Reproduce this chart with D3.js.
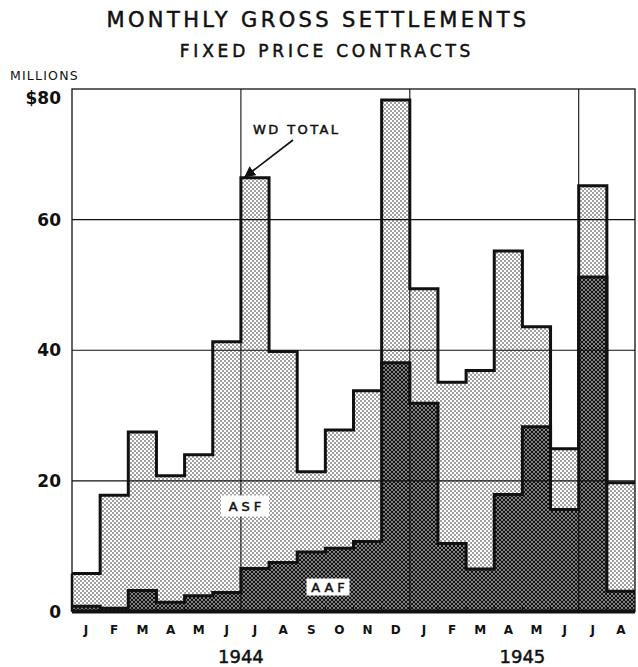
<!DOCTYPE html>
<html>
<head>
<meta charset="utf-8">
<script src="https://cdn.jsdelivr.net/npm/d3@7"></script>
<style>
  html, body { margin: 0; padding: 0; background: #fff; }
  svg { display: block; }
  text { font-family: "DejaVu Sans", "Liberation Sans", sans-serif; fill: #111; }
  .heavy { stroke: #111; stroke-width: 0.5px; }
</style>
</head>
<body>
<svg id="chart" width="638" height="667"></svg>
<script>
// Monthly gross settlements, fixed price contracts (millions of dollars)
const months = ["J","F","M","A","M","J","J","A","S","O","N","D",
                "J","F","M","A","M","J","J","A"];
const years = ["1944", "1945"];
const yearStartIndex = [0, 12];
const yearEndIndex = [12, 20];

// War Department total per month
const wdTotal = [5.8, 17.8, 27.5, 20.8, 24.0, 41.3, 66.4, 39.8, 21.4, 27.8, 33.8, 78.3,
                 49.4, 35.1, 36.9, 55.2, 43.6, 24.9, 65.2, 19.7];
// Army Air Forces share (lower band); ASF is the remainder up to the total
const aaf = [0.8, 0.5, 3.2, 1.4, 2.4, 2.9, 6.6, 7.5, 9.1, 9.7, 10.7, 38.1,
             31.9, 10.4, 6.5, 17.9, 28.3, 15.6, 51.2, 3.1];

const yTicks = [0, 20, 40, 60, 80];
const yTickLabels = ["0", "20", "40", "60", "$80"];
const gridMonths = [6, 12, 18];

const svg = d3.select("#chart");
const plotLeft = 72, plotRight = 635, plotTop = 89, plotBottom = 611.5;

const x = d3.scaleLinear().domain([0, months.length]).range([plotLeft, plotRight]);
const y = d3.scaleLinear().domain([0, 80]).range([plotBottom, plotTop]);

// Fill patterns: light stipple for ASF, dense dots for AAF
const defs = svg.append("defs");
const light = defs.append("pattern").attr("id", "asf").attr("patternUnits", "userSpaceOnUse")
  .attr("width", 4).attr("height", 4);
light.append("rect").attr("width", 4).attr("height", 4).attr("fill", "#fff");
[[1, 1], [3, 3]].forEach(([cx, cy]) =>
  light.append("circle").attr("cx", cx).attr("cy", cy).attr("r", 0.75).attr("fill", "#111"));

const dark = defs.append("pattern").attr("id", "aaf").attr("patternUnits", "userSpaceOnUse")
  .attr("width", 4).attr("height", 4);
dark.append("rect").attr("width", 4).attr("height", 4).attr("fill", "#fff");
[[0, 0], [4, 0], [0, 4], [4, 4], [2, 2]].forEach(([cx, cy]) =>
  dark.append("circle").attr("cx", cx).attr("cy", cy).attr("r", 1.45).attr("fill", "#111"));

const marker = defs.append("marker").attr("id", "arrow").attr("viewBox", "0 0 10 10")
  .attr("refX", 9).attr("refY", 5).attr("markerWidth", 7).attr("markerHeight", 7)
  .attr("orient", "auto");
marker.append("path").attr("d", "M0,0 L10,5 L0,10 z").attr("fill", "#111");

// Step series: append the last value so the final month gets its full width
const stepData = months.map((m, i) => ({ i, total: wdTotal[i], aaf: aaf[i] }));
stepData.push({ i: months.length, total: wdTotal[wdTotal.length - 1], aaf: aaf[aaf.length - 1] });

const asfArea = d3.area().curve(d3.curveStepAfter)
  .x(d => x(d.i)).y0(d => y(d.aaf)).y1(d => y(d.total));
const aafArea = d3.area().curve(d3.curveStepAfter)
  .x(d => x(d.i)).y0(y(0)).y1(d => y(d.aaf));

svg.append("path").datum(stepData).attr("d", asfArea).attr("fill", "url(#asf)");
svg.append("path").datum(stepData).attr("d", aafArea).attr("fill", "url(#aaf)");

// Grid lines
svg.append("g").selectAll("line").data(yTicks.filter(v => v > 0 && v < 80)).join("line")
  .attr("x1", plotLeft).attr("x2", plotRight).attr("y1", d => y(d)).attr("y2", d => y(d))
  .attr("stroke", "#111").attr("stroke-width", 1.1);
svg.append("g").selectAll("line").data(gridMonths).join("line")
  .attr("x1", d => x(d)).attr("x2", d => x(d)).attr("y1", plotTop).attr("y2", plotBottom)
  .attr("stroke", "#111").attr("stroke-width", 1.1);

// Frame
svg.append("rect").attr("x", plotLeft).attr("y", plotTop)
  .attr("width", plotRight - plotLeft).attr("height", plotBottom - plotTop)
  .attr("fill", "none").attr("stroke", "#111").attr("stroke-width", 1.3);

// Step outlines
const totalLine = d3.line().curve(d3.curveStepAfter).x(d => x(d.i)).y(d => y(d.total));
const aafLine = d3.line().curve(d3.curveStepAfter).x(d => x(d.i)).y(d => y(d.aaf));
svg.append("path").datum(stepData).attr("d", totalLine)
  .attr("fill", "none").attr("stroke", "#111").attr("stroke-width", 3);
svg.append("path").datum(stepData).attr("d", aafLine)
  .attr("fill", "none").attr("stroke", "#111").attr("stroke-width", 3);
// first month's left edge
svg.append("line").attr("x1", x(0)).attr("x2", x(0)).attr("y1", y(0)).attr("y2", y(wdTotal[0]))
  .attr("stroke", "#111").attr("stroke-width", 2.5);

// Baseline
svg.append("line").attr("x1", plotLeft).attr("x2", plotRight).attr("y1", y(0)).attr("y2", y(0))
  .attr("stroke", "#111").attr("stroke-width", 4);

// Small month ticks on the baseline
svg.append("g").selectAll("line").data(d3.range(1, months.length)).join("line")
  .attr("x1", d => x(d)).attr("x2", d => x(d)).attr("y1", y(0)).attr("y2", y(0) - 5)
  .attr("stroke", "#111").attr("stroke-width", 1);

// Y axis labels (the top label sits just inside the frame's top edge)
svg.append("g").selectAll("text").data(yTicks).join("text")
  .attr("x", 61).attr("y", d => Math.max(y(d), plotTop + 9)).attr("dy", "0.36em")
  .attr("text-anchor", "end").attr("font-size", 17).attr("font-weight", "bold")
  .text((d, i) => yTickLabels[i]);

svg.append("text").attr("x", 10).attr("y", 80).attr("font-size", 12.5)
  .attr("letter-spacing", 1.2).text("MILLIONS");

// Month labels
svg.append("g").selectAll("text").data(months).join("text")
  .attr("x", (d, i) => x(i + 0.5)).attr("y", 634).attr("text-anchor", "middle")
  .attr("font-size", 12).attr("font-weight", "bold").text(d => d);

// Year labels
svg.append("g").selectAll("text").data(years).join("text")
  .attr("class", "heavy")
  .attr("x", (d, i) => (x(yearStartIndex[i]) + x(yearEndIndex[i])) / 2).attr("y", 663)
  .attr("text-anchor", "middle").attr("font-size", 18).text(d => d);

// Titles
svg.append("text").attr("class", "heavy").attr("x", 318).attr("y", 27).attr("text-anchor", "middle")
  .attr("font-size", 21).attr("letter-spacing", 3.4).text("MONTHLY GROSS SETTLEMENTS");
svg.append("text").attr("class", "heavy").attr("x", 327).attr("y", 57).attr("text-anchor", "middle")
  .attr("font-size", 17).attr("letter-spacing", 3.8).text("FIXED PRICE CONTRACTS");

// Series labels on white boxes
function boxLabel(cx, cy, w, h, label) {
  svg.append("rect").attr("x", cx - w / 2).attr("y", cy - h / 2).attr("width", w).attr("height", h)
    .attr("fill", "#fff");
  svg.append("text").attr("class", "heavy").attr("x", cx + 2).attr("y", cy).attr("dy", "0.36em")
    .attr("text-anchor", "middle")
    .attr("font-size", 13).attr("letter-spacing", 4).text(label);
}
boxLabel(245, 506, 48, 21, "ASF");
boxLabel(328, 587, 43, 17, "AAF");

// WD total callout
svg.append("text").attr("class", "heavy").attr("x", 253).attr("y", 134).attr("font-size", 13)
  .attr("letter-spacing", 2.4).text("WD TOTAL");
svg.append("line").attr("x1", 293).attr("y1", 140)
  .attr("x2", x(6.5) - 10).attr("y2", y(wdTotal[6]) - 1)
  .attr("stroke", "#111").attr("stroke-width", 1.6).attr("marker-end", "url(#arrow)");
</script>
</body>
</html>
